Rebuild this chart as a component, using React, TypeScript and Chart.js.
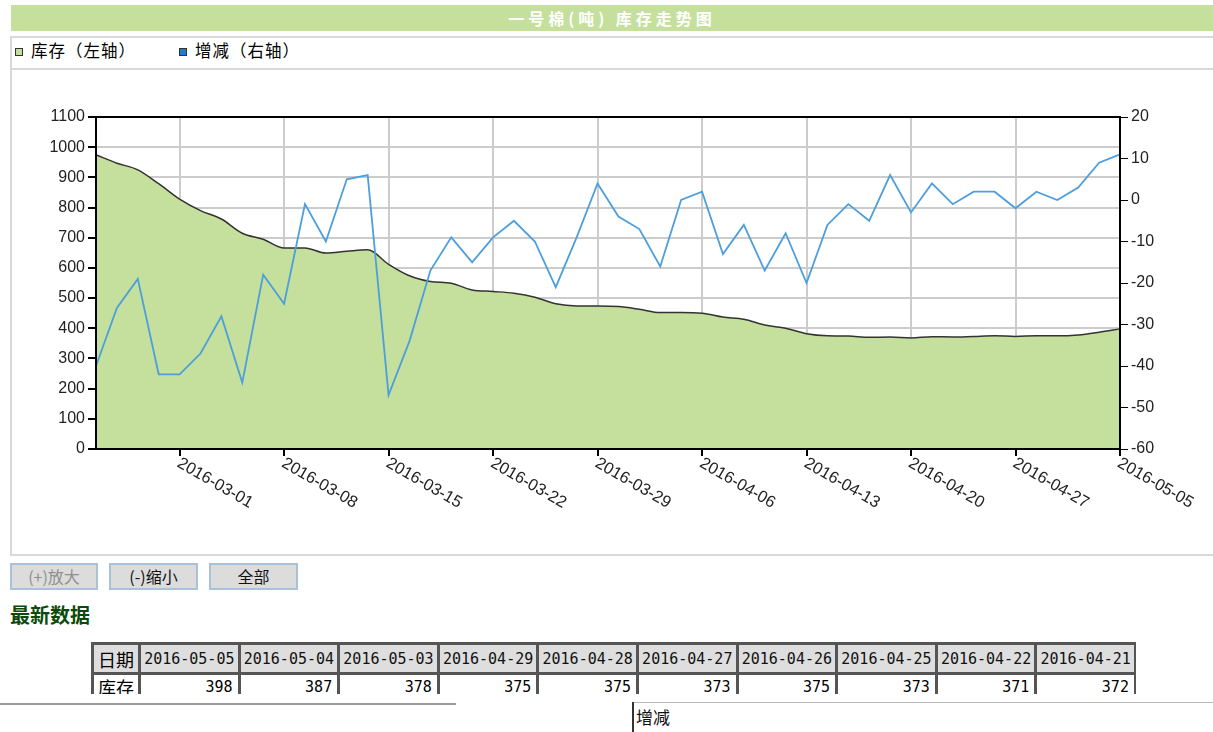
import React, { useEffect, useRef } from 'react';
import { Chart, registerables } from 'chart.js';

Chart.register(...registerables);

document.body.style.margin = '0';

// ---- DATA ----
const dates = [
  '2016-02-24', '2016-02-25', '2016-02-26', '2016-02-29', '2016-03-01',
  '2016-03-02', '2016-03-03', '2016-03-04', '2016-03-07', '2016-03-08',
  '2016-03-09', '2016-03-10', '2016-03-11', '2016-03-14', '2016-03-15',
  '2016-03-16', '2016-03-17', '2016-03-18', '2016-03-21', '2016-03-22',
  '2016-03-23', '2016-03-24', '2016-03-25', '2016-03-28', '2016-03-29',
  '2016-03-30', '2016-03-31', '2016-04-01', '2016-04-05', '2016-04-06',
  '2016-04-07', '2016-04-08', '2016-04-11', '2016-04-12', '2016-04-13',
  '2016-04-14', '2016-04-15', '2016-04-18', '2016-04-19', '2016-04-20',
  '2016-04-21', '2016-04-22', '2016-04-25', '2016-04-26', '2016-04-27',
  '2016-04-28', '2016-04-29', '2016-05-03', '2016-05-04', '2016-05-05',
];

const stock = [
  975, 947, 925, 879, 828, 790, 762, 715, 695, 666,
  666, 649, 655, 660, 612, 574, 555, 549, 527, 522,
  516, 503, 481, 474, 474, 472, 463, 452, 452, 450,
  437, 430, 411, 400, 382, 375, 374, 370, 371, 368,
  372, 371, 373, 375, 373, 375, 375, 378, 387, 398,
];

const change = [
  -40, -26, -19, -42, -42, -37, -28, -44, -18, -25,
  -1, -10, 5, 6, -47, -34, -17, -9, -15, -9,
  -5, -10, -21, -9, 4, -4, -7, -16, 0, 2,
  -13, -6, -17, -8, -20, -6, -1, -5, 6, -3,
  4, -1, 2, 2, -2, 2, 0, 3, 9, 11,
];

const tickLabels = [
  '2016-03-01', '2016-03-08', '2016-03-15', '2016-03-22', '2016-03-29',
  '2016-04-06', '2016-04-13', '2016-04-20', '2016-04-27', '2016-05-05',
];

const tableDates = [
  '2016-05-05', '2016-05-04', '2016-05-03', '2016-04-29', '2016-04-28',
  '2016-04-27', '2016-04-26', '2016-04-25', '2016-04-22', '2016-04-21',
];
const tableStock = [398, 387, 378, 375, 375, 373, 375, 373, 371, 372];

const GREEN = '#c5df9c';
const BLUE = '#4d9fdc';
const tickIdx = new Set(tickLabels.map((l) => dates.indexOf(l)));

const framePlugin = {
  id: 'frame',
  afterDatasetsDraw(chart: any) {
    const { ctx, chartArea } = chart;
    ctx.save();
    ctx.strokeStyle = '#000';
    ctx.lineWidth = 2;
    ctx.strokeRect(chartArea.left, chartArea.top, chartArea.right - chartArea.left, chartArea.bottom - chartArea.top);
    ctx.restore();
  },
};

const xLabelPlugin = {
  id: 'xlabels',
  afterDraw(chart: any) {
    const { ctx } = chart;
    const xs = chart.scales.x;
    ctx.save();
    ctx.font = '16.5px "Liberation Sans", Arial, sans-serif';
    ctx.fillStyle = '#222';
    ctx.textAlign = 'left';
    ctx.textBaseline = 'top';
    tickLabels.forEach((lbl) => {
      const i = dates.indexOf(lbl);
      const x = xs.getPixelForValue(i);
      ctx.save();
      ctx.translate(x + 3, xs.top + 6);
      ctx.rotate(Math.PI / 6);
      ctx.fillText(lbl, 0, 0);
      ctx.restore();
    });
    ctx.restore();
  },
};

function TrendChart() {
  const ref = useRef<HTMLCanvasElement | null>(null);
  useEffect(() => {
    if (!ref.current) return;
    const tickFont = { family: '"Liberation Sans", Arial, sans-serif', size: 16 };
    const chart = new Chart(ref.current, {
      type: 'line',
      data: {
        labels: dates,
        datasets: [
          {
            label: '增减（右轴）',
            data: change,
            yAxisID: 'y1',
            borderColor: BLUE,
            borderWidth: 1.8,
            pointRadius: 0,
            fill: false,
            tension: 0,
            order: 0,
          },
          {
            label: '库存（左轴）',
            data: stock,
            yAxisID: 'y',
            borderColor: '#333',
            borderWidth: 1.5,
            backgroundColor: GREEN,
            fill: 'origin',
            pointRadius: 0,
            cubicInterpolationMode: 'monotone',
            order: 1,
          },
        ],
      },
      options: {
        animation: false,
        responsive: false,
        layout: { padding: { top: 46, left: 0, right: 0, bottom: 0 } },
        plugins: { legend: { display: false }, tooltip: { enabled: false } },
        scales: {
          x: {
            offset: false,
            ticks: { display: false, autoSkip: false },
            grid: {
              color: (c: any) => (tickIdx.has(c.index) ? '#cccccc' : 'rgba(0,0,0,0)'),
              tickColor: (c: any) => (tickIdx.has(c.index) ? '#000' : 'rgba(0,0,0,0)'),
              lineWidth: 2,
              tickLength: 7,
            },
            border: { color: '#000', width: 2 },
            afterFit: (s: any) => { s.height = 106; },
          },
          y: {
            position: 'left',
            min: 0,
            max: 1100,
            ticks: { stepSize: 100, color: '#222', font: tickFont, padding: 3, callback: (v: any) => String(v) },
            grid: { color: '#cccccc', lineWidth: 2, tickColor: '#000', tickLength: 8 },
            border: { color: '#000', width: 2 },
            afterFit: (s: any) => { s.width = 86; },
          },
          y1: {
            position: 'right',
            min: -60,
            max: 20,
            ticks: { stepSize: 10, color: '#222', font: tickFont, padding: 3, callback: (v: any) => String(v) },
            grid: { drawOnChartArea: false, tickColor: '#000', tickLength: 8 },
            border: { color: '#000', width: 2 },
            afterFit: (s: any) => { s.width = 93; },
          },
        },
      } as any,
      plugins: [framePlugin, xLabelPlugin],
    });
    return () => chart.destroy();
  }, []);
  return (
    <canvas
      ref={ref}
      width={1203}
      height={484}
      style={{ position: 'absolute', left: 10, top: 71, width: 1203, height: 484 }}
    />
  );
}

const cjk = '"Noto Sans CJK SC", "Noto Sans", sans-serif';
const mono = '"DejaVu Sans Mono", monospace';

export default function App() {
  const btn = (label: string, left: number, width: number, color: string) => (
    <div
      style={{
        position: 'absolute', left, top: 563, width, height: 27, boxSizing: 'border-box',
        border: '2px solid #a9c2da', background: '#dcdcdc', color, fontSize: 16,
        lineHeight: '23px', textAlign: 'center', fontFamily: cjk,
      }}
    >
      {label}
    </div>
  );
  const cellB = '3px solid #555';
  return (
    <div style={{ position: 'relative', width: 1213, height: 732, overflow: 'hidden', background: '#fff', fontFamily: cjk }}>
      <div
        style={{
          position: 'absolute', left: 11, top: 5, width: 1202, height: 26, background: GREEN,
          color: '#fff', fontWeight: 'bold', fontSize: 16, lineHeight: '26px', textAlign: 'center',
          letterSpacing: 4,
        }}
      >
        一号棉(吨) 库存走势图
      </div>
      <div
        style={{
          position: 'absolute', left: 10, top: 36, width: 1215, height: 520, boxSizing: 'border-box',
          border: '2px solid #d8d8d8',
        }}
      />
      <div style={{ position: 'absolute', left: 10, top: 68, width: 1210, height: 2, background: '#d8d8d8' }} />
      <div style={{ position: 'absolute', left: 15, top: 48, width: 8, height: 8, boxSizing: 'border-box', border: '1px solid #333', background: GREEN }} />
      <div style={{ position: 'absolute', left: 31, top: 39, fontSize: 16.5, lineHeight: '22px', letterSpacing: 1, color: '#000' }}>库存（左轴）</div>
      <div style={{ position: 'absolute', left: 179, top: 48, width: 8, height: 8, boxSizing: 'border-box', border: '1px solid #333', background: '#1f7ad0' }} />
      <div style={{ position: 'absolute', left: 195, top: 39, fontSize: 16.5, lineHeight: '22px', letterSpacing: 1, color: '#000' }}>增减（右轴）</div>
      <TrendChart />
      {btn('(+)放大', 10, 88, '#8f8f8f')}
      {btn('(-)缩小', 109, 89, '#111')}
      {btn('全部', 209, 89, '#111')}
      <div style={{ position: 'absolute', left: 10, top: 601, fontSize: 20, fontWeight: 'bold', color: '#0b4a0b', lineHeight: '28px' }}>
        最新数据
      </div>
      <div style={{ position: 'absolute', left: 91, top: 642, width: 1045, height: 52, overflow: 'hidden' }}>
        <table style={{ borderCollapse: 'collapse', tableLayout: 'fixed', width: 1043, border: cellB }}>
          <colgroup>
            <col style={{ width: 47 }} />
            {tableDates.map((d) => <col key={d} style={{ width: 99.6 }} />)}
          </colgroup>
          <tbody>
            <tr style={{ height: 30, background: '#dedede' }}>
              <td style={{ border: cellB, fontSize: 18, padding: 0, textAlign: 'center', fontFamily: cjk }}>日期</td>
              {tableDates.map((d) => (
                <td key={d} style={{ border: cellB, fontSize: 15, padding: 0, textAlign: 'center', fontFamily: mono, color: '#111' }}>{d}</td>
              ))}
            </tr>
            <tr style={{ height: 26, background: '#fff' }}>
              <td style={{ border: cellB, fontSize: 18, padding: 0, textAlign: 'center', fontFamily: cjk, verticalAlign: 'top', lineHeight: '24px' }}>库存</td>
              {tableStock.map((v, i) => (
                <td key={i} style={{ border: cellB, fontSize: 15, padding: '0 5px 0 0', textAlign: 'right', fontFamily: mono, verticalAlign: 'top', lineHeight: '24px' }}>{v}</td>
              ))}
            </tr>
          </tbody>
        </table>
      </div>
      <div style={{ position: 'absolute', left: 0, top: 703, width: 456, height: 2, background: '#9a9a9a' }} />
      <div style={{ position: 'absolute', left: 632, top: 702, width: 581, height: 1, background: '#bbb' }} />
      <div style={{ position: 'absolute', left: 632, top: 702, width: 2, height: 30, background: '#333' }} />
      <div style={{ position: 'absolute', left: 636, top: 706, fontSize: 17, lineHeight: '22px', color: '#111' }}>增减</div>
    </div>
  );
}
